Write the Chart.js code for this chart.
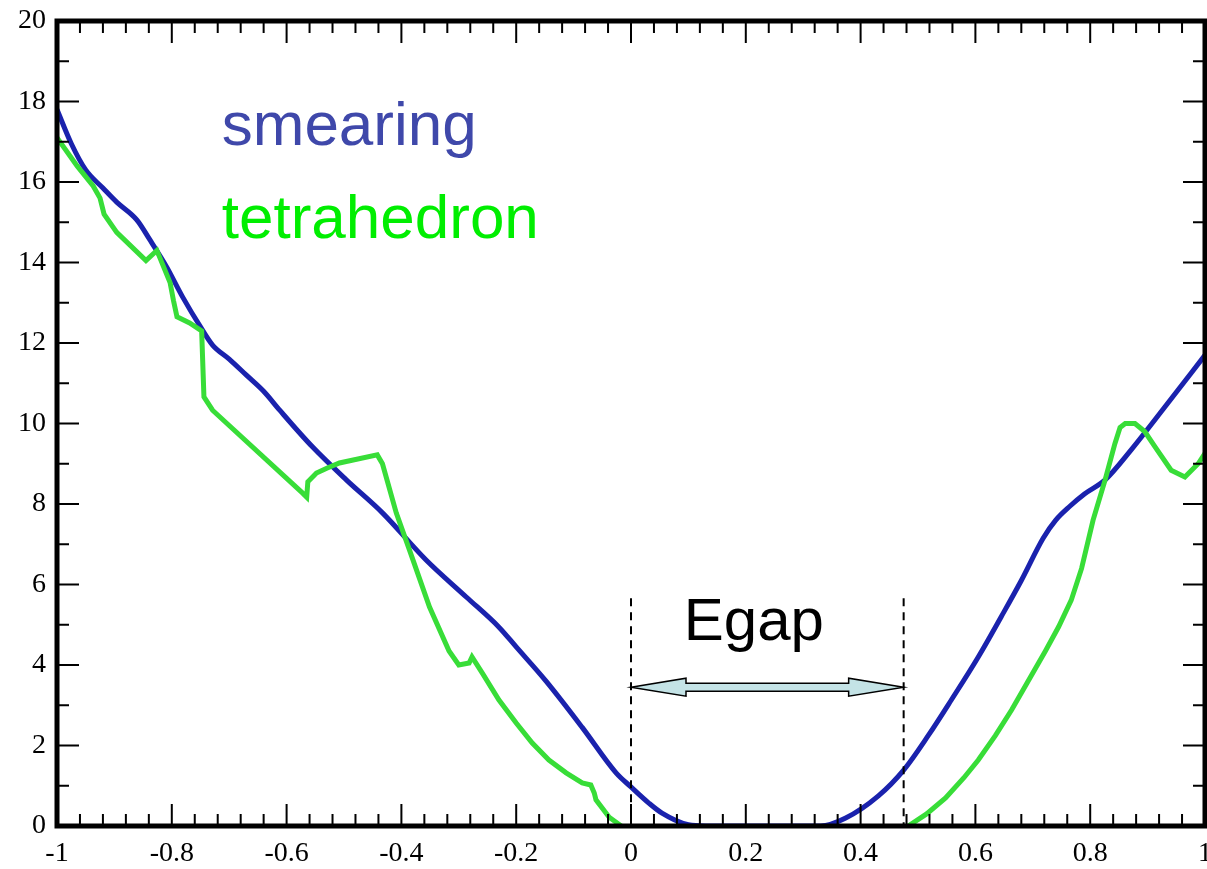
<!DOCTYPE html>
<html>
<head>
<meta charset="utf-8">
<script src="https://cdn.jsdelivr.net/npm/chart.js@4/dist/chart.umd.min.js"></script>
<style>
  html, body { margin: 0; padding: 0; background: #fff; }
  #wrap { width: 1207px; height: 869px; }
</style>
</head>
<body>
<div id="wrap"><canvas id="dos" width="1207" height="869"></canvas></div>
<script>
// axis ticks
const xTicks = [-1, -0.8, -0.6, -0.4, -0.2, 0, 0.2, 0.4, 0.6, 0.8, 1];
const yTicks = [0, 2, 4, 6, 8, 10, 12, 14, 16, 18, 20];

// smearing (blue)
const smearX = [-1, -0.975, -0.95, -0.92, -0.896, -0.861, -0.838, -0.809, -0.781, -0.75, -0.729, -0.70, -0.67, -0.64, -0.612,
  -0.555, -0.496, -0.433, -0.357, -0.287, -0.23, -0.2, -0.148, -0.085, -0.026, 0, 0.031, 0.054, 0.1, 0.13, 0.33,
  0.374, 0.431, 0.475, 0.518, 0.558, 0.605, 0.645, 0.68, 0.718, 0.74, 0.765, 0.79, 0.826, 0.871, 0.93, 1.0];
const smearY = [17.8, 16.95, 16.3, 15.85, 15.5, 15.06, 14.56, 13.89, 13.14, 12.4, 11.95, 11.6, 11.2, 10.8, 10.33,
  9.42, 8.6, 7.78, 6.61, 5.69, 4.94, 4.45, 3.6, 2.45, 1.32, 0.97, 0.57, 0.32, 0.03, 0, 0,
  0.2, 0.75, 1.39, 2.25, 3.13, 4.2, 5.2, 6.1, 7.15, 7.6, 7.95, 8.25, 8.6, 9.34, 10.41, 11.7];

// tetrahedron (green)
const tetraX = [-1, -0.965, -0.937, -0.925, -0.918, -0.896, -0.845, -0.826, -0.803, -0.797, -0.791, -0.769, -0.748,
  -0.744, -0.729, -0.572, -0.565, -0.563, -0.548, -0.53, -0.508, -0.442, -0.433, -0.409, -0.386, -0.351, -0.317,
  -0.3, -0.282, -0.277, -0.259, -0.23, -0.2, -0.172, -0.143, -0.113, -0.085, -0.07, -0.064, -0.061, -0.038, -0.017,
  0.2, 0.483, 0.515, 0.548, 0.58, 0.605, 0.635, 0.663, 0.69, 0.722, 0.745, 0.767, 0.785, 0.805, 0.826, 0.843, 0.852,
  0.861, 0.878, 0.895, 0.913, 0.941, 0.965, 0.988, 1.0];
const tetraY = [17.1, 16.4, 15.9, 15.6, 15.2, 14.75, 14.05, 14.3, 13.5, 13.05, 12.65, 12.5, 12.3,
  10.66, 10.33, 8.27, 8.17, 8.55, 8.77, 8.89, 9.02, 9.22, 9.0, 7.78, 6.86, 5.44, 4.35,
  4.0, 4.05, 4.2, 3.8, 3.13, 2.56, 2.06, 1.64, 1.32, 1.07, 1.02, 0.82, 0.65, 0.22, 0,
  null, 0, 0.3, 0.7, 1.2, 1.64, 2.25, 2.88, 3.55, 4.35, 4.95, 5.61, 6.4, 7.6, 8.6, 9.5, 9.9,
  10.0, 10.0, 9.8, 9.42, 8.84, 8.67, 9.0, 9.26];

const seriesNames = ["smearing", "tetrahedron"];
const gapEdges = [0, 0.475];
const gapLabel = "Egap";

function toPoints(xs, ys) {
  return xs.map((x, i) => ({ x: x, y: ys[i] }));
}

// frame, inward ticks and the gap annotation
const framePlugin = {
  id: "frame",
  afterDatasetsDraw(chart) {
    const { ctx, chartArea: a, scales: { x, y } } = chart;
    ctx.save();
    ctx.strokeStyle = "#000";
    ctx.lineWidth = 2;
    ctx.beginPath();
    for (let i = 0; i < xTicks.length; i++) {
      const px = x.getPixelForValue(xTicks[i]);
      if (i > 0 && i < xTicks.length - 1) {
        ctx.moveTo(px, a.bottom); ctx.lineTo(px, a.bottom - 22);
        ctx.moveTo(px, a.top); ctx.lineTo(px, a.top + 22);
      }
      if (i < xTicks.length - 1) {
        const step = (xTicks[i + 1] - xTicks[i]) / 5;
        for (let k = 1; k < 5; k++) {
          const pm = x.getPixelForValue(xTicks[i] + k * step);
          ctx.moveTo(pm, a.bottom); ctx.lineTo(pm, a.bottom - 12);
          ctx.moveTo(pm, a.top); ctx.lineTo(pm, a.top + 12);
        }
      }
    }
    for (let i = 0; i < yTicks.length; i++) {
      const py = y.getPixelForValue(yTicks[i]);
      if (i > 0 && i < yTicks.length - 1) {
        ctx.moveTo(a.left, py); ctx.lineTo(a.left + 22, py);
        ctx.moveTo(a.right, py); ctx.lineTo(a.right - 22, py);
      }
      if (i < yTicks.length - 1) {
        const pm = y.getPixelForValue((yTicks[i] + yTicks[i + 1]) / 2);
        ctx.moveTo(a.left, pm); ctx.lineTo(a.left + 12, pm);
        ctx.moveTo(a.right, pm); ctx.lineTo(a.right - 12, pm);
      }
    }
    ctx.stroke();
    ctx.lineWidth = 5;
    ctx.strokeRect(a.left, a.top, a.right - a.left, a.bottom - a.top);

    // dashed gap edges
    const x0 = x.getPixelForValue(gapEdges[0]);
    const x1 = x.getPixelForValue(gapEdges[1]);
    const yTop = y.getPixelForValue(5.66);
    ctx.lineWidth = 2;
    ctx.setLineDash([8, 6]);
    ctx.beginPath();
    ctx.moveTo(x0, yTop); ctx.lineTo(x0, a.bottom);
    ctx.moveTo(x1, yTop); ctx.lineTo(x1, a.bottom);
    ctx.stroke();
    ctx.setLineDash([]);

    // double arrow
    const ay = y.getPixelForValue(3.45);
    const hl = 55, hh = 9, sh = 4;
    ctx.beginPath();
    ctx.moveTo(x0, ay);
    ctx.lineTo(x0 + hl, ay - hh);
    ctx.lineTo(x0 + hl, ay - sh);
    ctx.lineTo(x1 - hl, ay - sh);
    ctx.lineTo(x1 - hl, ay - hh);
    ctx.lineTo(x1, ay);
    ctx.lineTo(x1 - hl, ay + hh);
    ctx.lineTo(x1 - hl, ay + sh);
    ctx.lineTo(x0 + hl, ay + sh);
    ctx.lineTo(x0 + hl, ay + hh);
    ctx.closePath();
    ctx.fillStyle = "#c4e3e6";
    ctx.fill();
    ctx.lineWidth = 1.5;
    ctx.stroke();

    // labels
    ctx.font = '60px "Liberation Sans", Arial, sans-serif';
    ctx.textBaseline = "alphabetic";
    ctx.fillStyle = "#000";
    ctx.fillText(gapLabel, x.getPixelForValue(0.092), y.getPixelForValue(4.62));
    ctx.font = '62px "Liberation Sans", Arial, sans-serif';
    ctx.fillStyle = "#3f48aa";
    ctx.fillText(seriesNames[0], x.getPixelForValue(-0.713), y.getPixelForValue(16.92));
    ctx.fillStyle = "#00ee00";
    ctx.fillText(seriesNames[1], x.getPixelForValue(-0.713), y.getPixelForValue(14.62));
    ctx.restore();
  }
};

const tickFont = { family: '"Liberation Serif", "Times New Roman", serif', size: 28 };

new Chart(document.getElementById("dos"), {
  type: "scatter",
  data: {
    datasets: [
      {
        label: seriesNames[1],
        data: toPoints(tetraX, tetraY),
        showLine: true,
        borderColor: "#38dd38",
        borderWidth: 5,
        pointRadius: 0,
        tension: 0,
        spanGaps: false
      },
      {
        label: seriesNames[0],
        data: toPoints(smearX, smearY),
        showLine: true,
        borderColor: "#1a22ad",
        borderWidth: 5,
        pointRadius: 0,
        cubicInterpolationMode: "monotone"
      }
    ]
  },
  options: {
    responsive: false,
    animation: false,
    layout: { padding: { left: 0, top: 21, right: 2, bottom: 0 } },
    plugins: { legend: { display: false }, tooltip: { enabled: false } },
    scales: {
      x: {
        type: "linear",
        min: -1,
        max: 1,
        afterBuildTicks: (s) => { s.ticks = xTicks.map(v => ({ value: v })); },
        afterFit: (s) => { s.height = 43; s.paddingLeft = 0; s.paddingRight = 0; },
        grid: { display: false, drawTicks: false },
        border: { display: false },
        ticks: { color: "#000", font: tickFont, padding: 11, maxRotation: 0, autoSkip: false,
          callback: (v) => String(Number(v.toFixed(1))) }
      },
      y: {
        type: "linear",
        min: 0,
        max: 20,
        afterBuildTicks: (s) => { s.ticks = yTicks.map(v => ({ value: v })); },
        afterFit: (s) => { s.width = 57; s.paddingTop = 0; s.paddingBottom = 0; },
        grid: { display: false, drawTicks: false },
        border: { display: false },
        ticks: { color: "#000", font: tickFont, padding: 11, autoSkip: false }
      }
    }
  },
  plugins: [framePlugin]
});
</script>
</body>
</html>
